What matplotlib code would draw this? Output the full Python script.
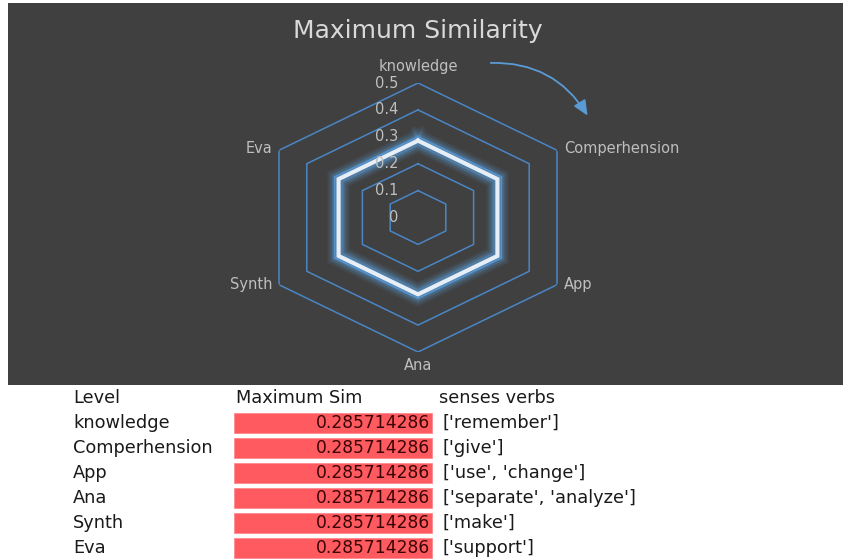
import numpy as np
import matplotlib
matplotlib.use("Agg")
import matplotlib.pyplot as plt
from matplotlib.patches import Rectangle, FancyArrowPatch

# --- data ---
levels = ["knowledge", "Comperhension", "App", "Ana", "Synth", "Eva"]
max_sim = [0.285714286, 0.285714286, 0.285714286, 0.285714286, 0.285714286, 0.285714286]
verbs = ["['remember']", "['give']", "['use', 'change']", "['separate', 'analyze']",
         "['make']", "['support']"]
r_ticks = [0, 0.1, 0.2, 0.3, 0.4, 0.5]
header = ["Level", "Maximum Sim", "senses verbs"]

W, H = 843, 559
BG = "#404040"
GRID = "#4a86c5"
LBL = "#bfbfbf"

fig = plt.figure(figsize=(W / 100, H / 100), dpi=100)
fig.patch.set_facecolor("white")

# dark chart panel
fig.patches.append(Rectangle((8 / W, (H - 385) / H), 835 / W, 382 / H,
                             transform=fig.transFigure, facecolor=BG,
                             edgecolor="none", zorder=-10))

# --- radar (polar axes stretched like the screenshot) ---
cx, cy, rx, ry = 418, 217.5, 160.5, 134.5
ax = fig.add_axes([(cx - rx) / W, (H - cy - ry) / H, 2 * rx / W, 2 * ry / H],
                  projection="polar")
ax.set_aspect("auto")
ax.set_facecolor("none")
ax.set_theta_zero_location("N")
ax.set_theta_direction(-1)
ax.set_ylim(0, 0.5)
ax.grid(False)
ax.spines["polar"].set_visible(False)
ax.set_xticks([])
ax.set_yticks([])

n = len(levels)
theta = np.linspace(0, 2 * np.pi, n, endpoint=False)
theta_c = np.append(theta, theta[0])

for r in r_ticks[1:]:
    ax.plot(theta_c, [r] * (n + 1), color=GRID, lw=1.1, zorder=1)

vals = np.append(max_sim, max_sim[0])
# glow
for lw, a in [(16, 0.10), (13, 0.15), (10, 0.25), (7, 0.45)]:
    ax.plot(theta_c, vals, color="#5b9bd5", lw=lw, alpha=a, zorder=2,
            solid_joinstyle="miter")
ax.plot(theta_c, vals, color="#e6eef8", lw=3, zorder=3, solid_joinstyle="miter")

# radial tick labels
for r in r_ticks:
    ax.annotate(f"{r:g}", xy=(0, r), xytext=(-20, 0), textcoords="offset pixels",
                ha="right", va="center", color=LBL, fontsize=10.5, zorder=4)

# category labels
offsets = [(0, 16, "center"), (7, 2, "left"), (7, 0, "left"),
           (0, -13, "center"), (-7, 0, "right"), (-7, 2, "right")]
for t, lab, (dx, dy, ha) in zip(theta, levels, offsets):
    ax.annotate(lab, xy=(t, 0.5), xytext=(dx, dy), textcoords="offset pixels",
                ha=ha, va="center", color=LBL, fontsize=10.5, annotation_clip=False)

# title
fig.text(cx / W, (H - 31) / H, "Maximum Similarity", ha="center", va="center",
         color="#d9d9d9", fontsize=18)

# curved direction arrow
arrow = FancyArrowPatch((488 / W, (H - 63) / H), (589 / W, (H - 118) / H),
                        transform=fig.transFigure, connectionstyle="arc3,rad=-0.3",
                        arrowstyle="-|>,head_length=9,head_width=4",
                        color="#5b9bd5", lw=1.3)
fig.patches.append(arrow)

# --- table below ---
tab = fig.add_axes([0, 0, 1, 1])
tab.set_xlim(0, W)
tab.set_ylim(H, 0)
tab.axis("off")
tab.patch.set_alpha(0)

FS = 12.8
row0, pitch = 398, 25
for x, txt in zip([73, 236, 439], header):
    tab.text(x, row0, txt, ha="left", va="center", fontsize=FS, color="#1a1a1a")

rows = row0 + pitch * (np.arange(len(levels)) + 1)
tab.barh(rows, 198, left=234, height=20, color="#ff5a5f", edgecolor="#ff8a8d", lw=0.6)
for y, lab, v, vb in zip(rows, levels, max_sim, verbs):
    tab.text(73, y, lab, ha="left", va="center", fontsize=FS, color="#1a1a1a")
    tab.text(430, y, f"{v:.9f}", ha="right", va="center", fontsize=12.3, color="#3a0505")
    tab.text(443, y, vb, ha="left", va="center", fontsize=FS, color="#1a1a1a")

fig.savefig("out.png", dpi=100, facecolor=fig.get_facecolor())
